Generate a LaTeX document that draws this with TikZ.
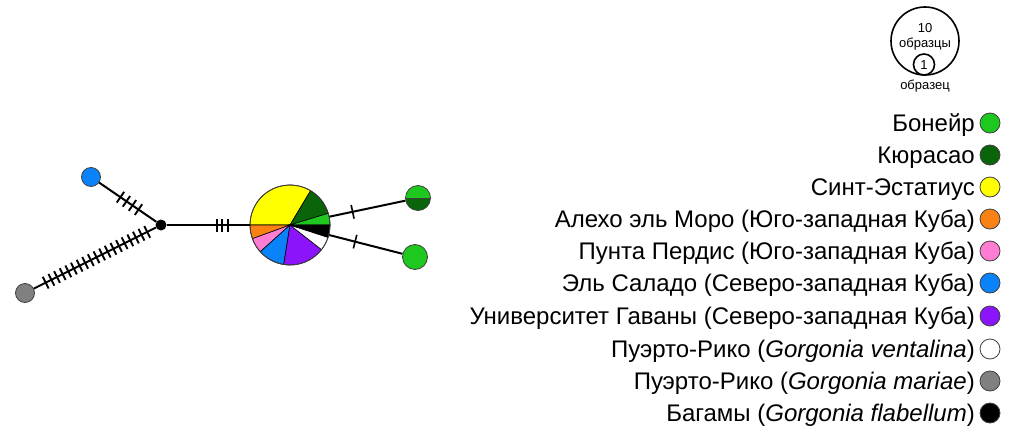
\documentclass[tikz,border=0pt]{standalone}
\usepackage{fontspec}
\setmainfont{Liberation Sans}
\usetikzlibrary{decorations.markings}

\definecolor{bonaire}{RGB}{30,200,30}
\definecolor{curacao}{RGB}{10,100,10}
\definecolor{statia}{RGB}{255,255,0}
\definecolor{morro}{RGB}{250,130,20}
\definecolor{perdis}{RGB}{255,125,210}
\definecolor{salado}{RGB}{10,130,250}
\definecolor{havana}{RGB}{140,20,250}
\definecolor{mariae}{RGB}{128,128,128}

\tikzset{
  edge/.style={line width=2pt},
  hap/.style={circle, inner sep=0pt, minimum size=#1, draw=black!75, line width=0.8pt},
  hatchmarks/.style n args={3}{postaction={decorate, decoration={markings,
      mark=between positions #1 and #2 step #3 with {\draw[line width=1.9pt] (0,-6.5pt) -- (0,6.5pt);}}}},
  onehatch/.style={postaction={decorate, decoration={markings,
      mark=at position #1 with {\draw[line width=1.6pt] (0,-7pt) -- (0,7pt);}}}},
  legtext/.style={anchor=base east, inner sep=0pt, font=\fontsize{24}{28}\selectfont},
  legdot/.style={circle, inner sep=0pt, minimum size=20pt, draw=black!75, line width=0.8pt},
  scaletext/.style={inner sep=0pt, font=\fontsize{13}{15}\selectfont},
  slice/.style={draw=black, line width=0.6pt}
}

\begin{document}
\begin{tikzpicture}[x={(1pt,0)}, y={(0,-1pt)}]
\useasboundingbox (0,0) rectangle (1010,431);

% central pie of the shared haplotype
\coordinate (pc) at (290,225);
\begin{scope}[shift={(pc)}, yscale=-1]
  \foreach \a/\b/\c in {59/180/statia, 17/59/curacao, 0/17/bonaire, 180/200/morro,
                         200/222/perdis, 222/261/salado, 261/322/havana,
                         322/342/white, 342/360/black}
    \filldraw[fill=\c, slice] (0,0) -- (\a:40) arc[start angle=\a, end angle=\b, radius=40] -- cycle;
\end{scope}
\node[hap=80pt] (pie) at (pc) {};

% other haplotypes
\node[circle, fill=black, inner sep=0pt, minimum size=11pt] (hub) at (161,225) {};
\node[hap=19pt, fill=salado] (blue) at (91,177) {};
\node[hap=19pt, fill=mariae] (gray) at (25,293) {};
\node[hap=25pt, fill=bonaire, path picture={
    \fill[curacao] (path picture bounding box.west) rectangle (path picture bounding box.south east);
    \draw[black!75, line width=0.8pt] (path picture bounding box.west) -- (path picture bounding box.east);}] (mix) at (418,198) {};
\node[hap=25pt, fill=bonaire] (green) at (415,257) {};

% connectors with mutation steps
\draw[edge, hatchmarks={13.3pt}{127.5pt}{6.3pt}] (gray) -- (hub);
\draw[edge, hatchmarks={25.8pt}{48.5pt}{7.3pt}] (blue) -- (hub);
\draw[edge, hatchmarks={50pt}{62pt}{5.7pt}] (hub) -- (pie);
\draw[edge, onehatch=23.6pt] (pie) -- (mix);
\draw[edge, onehatch=26.8pt] (pie) -- (green);

% size scale
\node[circle, draw=black, line width=1.6pt, inner sep=0pt, minimum size=68pt] (big) at (925,41) {};
\node[circle, draw=black, line width=1.6pt, inner sep=0pt, minimum size=21pt] (small) at (924,64.5) {};
\node[scaletext] (ten) at (925,28) {10};
\node[scaletext] (tenlab) at (925,44) {образцы};
\node[scaletext] (one) at (924,65.5) {1};
\node[scaletext] (onelab) at (925,86) {образец};

% legend
\foreach \y/\c/\t [count=\i] in {
  123/bonaire/{Бонейр},
  155/curacao/{Кюрасао},
  187/statia/{Синт-Эстатиус},
  219/morro/{Алехо эль Моро (Юго-западная Куба)},
  251/perdis/{Пунта Пердис (Юго-западная Куба)},
  283/salado/{Эль Саладо (Северо-западная Куба)},
  316/havana/{Университет Гаваны (Северо-западная Куба)},
  349/white/{Пуэрто-Рико (\textit{Gorgonia ventalina})},
  381/mariae/{Пуэрто-Рико (\textit{Gorgonia mariae})},
  413/black/{Багамы (\textit{Gorgonia flabellum})}}
{
  \node[legdot, fill=\c] (dot\i) at (990,\y) {};
  \node[legtext] (lab\i) at (975,\y+8.6) {\t};
}
\end{tikzpicture}
\end{document}
